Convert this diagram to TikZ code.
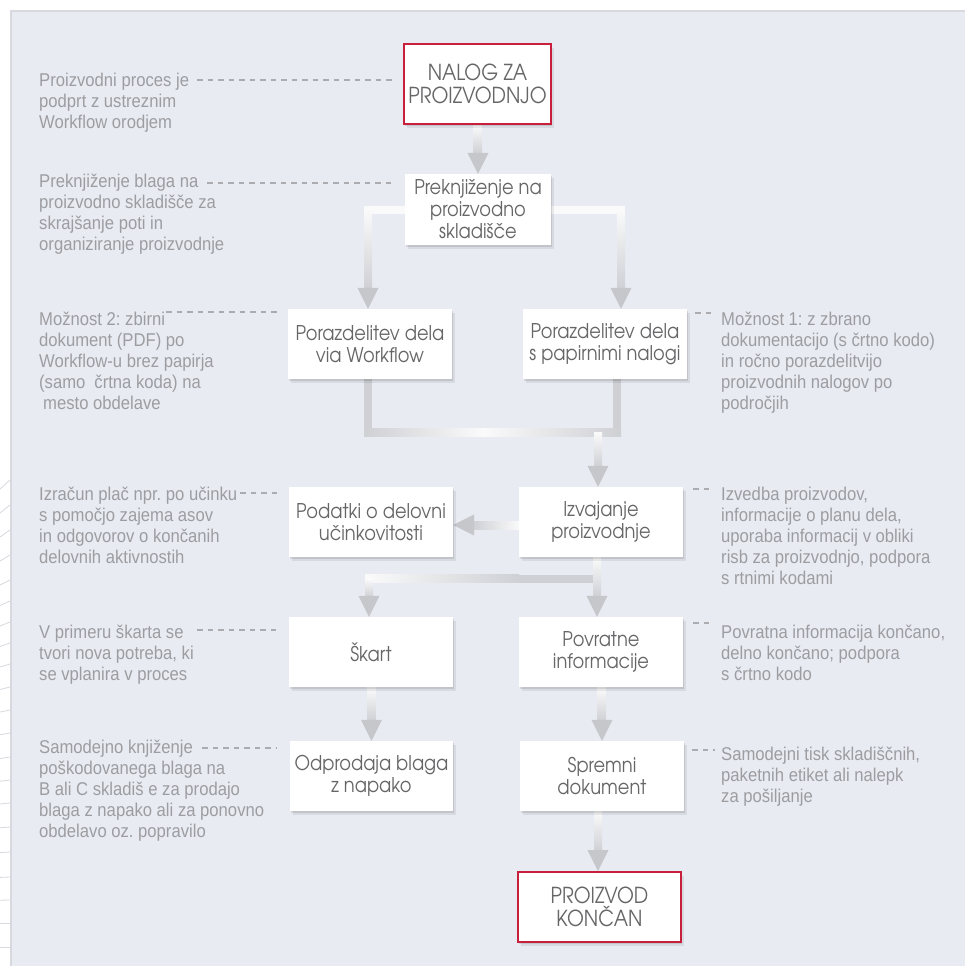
\documentclass[tikz,border=0pt]{standalone}
\usepackage{fontspec}
\setmainfont{Liberation Sans}
\newfontfamily\boxfont{texgyreadventor-regular.otf}[FakeStretch=0.88]
\newfontfamily\notefont{Liberation Sans}[FakeStretch=0.90]
\usetikzlibrary{calc,shadows}
\definecolor{panel}{HTML}{E8EBF2}
\definecolor{panelline}{HTML}{D8D9DE}
\definecolor{redb}{HTML}{C8203C}
\definecolor{boxtext}{HTML}{666668}
\definecolor{notetext}{HTML}{9D9DA1}
\definecolor{leadc}{HTML}{ABABB0}
\definecolor{shw}{HTML}{FAFAFB}
\definecolor{shg}{HTML}{CFD0D4}
\definecolor{headc}{HTML}{C6C7CB}
\pgfdeclarelayer{base}
\pgfdeclarelayer{bg}
\pgfsetlayers{base,bg,main}
\newcommand\vflow[2]{%
  \shade[top color=shw, bottom color=shg] ($(#1)+(-4,0)$) rectangle ($(#2)+(4,-20)$);
  \fill[headc] ($(#2)+(-10.5,-21)$) -- ($(#2)+(10.5,-21)$) -- (#2) -- cycle;}
\tikzset{
  box/.style={fill=white, inner sep=0pt, minimum width=164pt, minimum height=70pt,
    align=center, text=boxtext, font=\boxfont\fontsize{20.3}{22}\selectfont,
    drop shadow={shadow xshift=1pt, shadow yshift=-1.5pt, opacity=0.10, fill=black},
    drop shadow={shadow xshift=2.5pt, shadow yshift=-4pt, opacity=0.07, fill=black}},
  redbox/.style={box, draw=redb, line width=1.6pt, font=\boxfont\fontsize{22}{23.5}\selectfont},
  note/.style={anchor=base west, inner sep=0pt, align=left, text=notetext,
    font=\notefont\fontsize{18.5}{21}\selectfont\frenchspacing},
  leader/.style={draw=leadc, line width=1.4pt, dash pattern=on 5.5pt off 5pt},
  deco/.style={draw=panelline, line width=0.8pt}
}
\begin{document}
\begin{tikzpicture}[x=1pt,y=-1pt]
\useasboundingbox (0,0) rectangle (965,966);
\begin{pgfonlayer}{base}
  \fill[white] (0,0) rectangle (965,966);
  \fill[panel] (11,11) rectangle (965,966);
  \draw[panelline, line width=2pt] (11,966) -- (11,11) -- (965,11);
  \foreach \yy/\dd in {480/9, 505/8, 530/7, 555/6, 580/5, 601/4.5, 622/4, 643/3.5, 664/3, 687/2.5, 710/2, 733/1.8, 757/1.5, 780/1.2, 803/1, 827/0.8, 852/0.6, 877/0.4, 900/0.2, 923/0, 947/0}
    \draw[deco] (0,\yy+\dd) -- (10,\yy);
\end{pgfonlayer}

% boxes
\node[redbox, minimum width=147pt, minimum height=80pt] (n1) at (477.5,84) {NALOG ZA\\PROIZVODNJO};
\node[box, minimum width=146pt, minimum height=71pt] (n2) at (478,209.5) {Preknjiženje na\\proizvodno\\skladišče};
\node[box] (n3) at (370,344) {Porazdelitev dela\\via Workflow};
\node[box] (n4) at (605,344) {Porazdelitev dela\\s papirnimi nalogi};
\node[box] (n5) at (371,522) {Podatki o delovni\\učinkovitosti};
\node[box] (n6) at (601,522) {Izvajanje\\proizvodnje};
\node[box] (n7) at (371,652) {Škart};
\node[box] (n8) at (601,652) {Povratne\\informacije};
\node[box, minimum width=163pt] (n9) at (371.5,776) {Odprodaja blaga\\z napako};
\node[box] (n10) at (602,776) {Spremni\\dokument};
\node[redbox, minimum width=163pt] (n11) at (599.5,907) {PROIZVOD\\KONČAN};

% annotations (anchored at the baseline of the last line)
\node[note] (t1) at (39,128) {Proizvodni proces je\\podprt z ustreznim\\Workflow orodjem};
\node[note] (t2) at (39,250) {Preknjiženje blaga na\\proizvodno skladišče za\\skrajšanje poti in\\organiziranje proizvodnje};
\node[note] (t3) at (39,409) {Možnost 2: zbirni\\dokument (PDF) po\\Workflow-u brez papirja\\(samo\hspace{9pt}črtna koda) na\\\hspace{4pt}mesto obdelave};
\node[note] (t4) at (721,409) {Možnost 1: z zbrano\\dokumentacijo (s črtno kodo)\\in ročno porazdelitvijo\\proizvodnih nalogov po\\področjih};
\node[note] (t5) at (39,563) {Izračun plač npr. po učinku\\s pomočjo zajema asov\\in odgovorov o končanih\\delovnih aktivnostih};
\node[note] (t6) at (721,584) {Izvedba proizvodov,\\informacije o planu dela,\\uporaba informacij v obliki\\risb za proizvodnjo, podpora\\s rtnimi kodami};
\node[note] (t7) at (39,680) {V primeru škarta se\\tvori nova potreba, ki\\se vplanira v proces};
\node[note] (t8) at (721,680) {Povratna informacija končano,\\delno končano; podpora\\s črtno kodo};
\node[note] (t9) at (39,837) {Samodejno knjiženje\\poškodovanega blaga na\\B ali C skladiš e za prodajo\\blaga z napako ali za ponovno\\obdelavo oz. popravilo};
\node[note] (t10) at (721,802) {Samodejni tisk skladiščnih,\\paketnih etiket ali nalepk\\za pošiljanje};

% leader lines
\coordinate (d1a) at (197,80);  \coordinate (d1b) at (395,80);
\coordinate (d2a) at (207,183); \coordinate (d2b) at (395,183);
\coordinate (d3a) at (166,312); \coordinate (d3b) at (277,312);
\coordinate (d4a) at (695,313); \coordinate (d4b) at (713,313);
\coordinate (d5a) at (240,493); \coordinate (d5b) at (277,493);
\coordinate (d6a) at (693,489); \coordinate (d6b) at (713,489);
\coordinate (d7a) at (197,630); \coordinate (d7b) at (277,630);
\coordinate (d8a) at (693,623); \coordinate (d8b) at (713,623);
\coordinate (d9a) at (202,748); \coordinate (d9b) at (277,748);
\coordinate (d10a) at (692,750); \coordinate (d10b) at (715,750);
\foreach \k in {1,...,10} \draw[leader] (d\k a) -- (d\k b);

\begin{pgfonlayer}{bg}
% n1 -> n2
\vflow{n1.south}{n2.north}
% n2 -> n3, n4
\coordinate (a3) at ($(n3.north)+(-2,0)$);
\coordinate (a4) at ($(n4.north)+(16,0)$);
\coordinate (c3) at (a3 |- n2.west);
\coordinate (c4) at (a4 |- n2.east);
\fill[shw] ($(c3)+(-4,-4)$) rectangle ($(n2.west)+(0,4)$);
\fill[shw] ($(n2.east)+(0,-4)$) rectangle ($(c4)+(4,4)$);
\vflow{c3}{a3}
\vflow{c4}{a4}
% merge n3, n4 -> n6
\coordinate (m3) at ($(n3.south)+(-2,0)$);
\coordinate (m4) at ($(n4.south)+(12,0)$);
\coordinate (mL) at ($(m3)+(0,53)$);
\coordinate (mR) at (m4 |- mL);
\fill[shg] ($(m3)+(-4,0)$) rectangle ($(mL)+(4,4)$);
\fill[shg] ($(m4)+(-4,0)$) rectangle ($(mR)+(4,4)$);
\shade[left color=shg, right color=shw] ($(mL)+(-4,-4)$) rectangle ($(mL)+(115,4)$);
\shade[left color=shw, right color=shg] ($(mL)+(115,-4)$) rectangle ($(mR)+(4,4)$);
\coordinate (a6) at ($(n6.north)+(-3,0)$);
\coordinate (m6) at (a6 |- mL);
\vflow{m6}{a6}
% n6 -> n5
\coordinate (h6) at ($(n6.west)+(0,3)$);
\coordinate (h5) at (n5.east |- h6);
\shade[left color=shg, right color=shw] ($(h5)+(20,-4)$) rectangle ($(h6)+(0,4)$);
\fill[headc] (h5) -- ($(h5)+(21,-10.5)$) -- ($(h5)+(21,10.5)$) -- cycle;
% n6 -> n8 and branch to n7
\coordinate (a8) at ($(n8.north)+(-4,0)$);
\coordinate (s6) at (a8 |- n6.south);
\coordinate (a7) at ($(n7.north)+(-2,0)$);
\coordinate (b7) at ($(a7)+(0,-38)$);
\coordinate (b8) at (a8 |- b7);
\shade[left color=shw, right color=shg] ($(b7)+(-4,-4)$) rectangle ($(b7)+(150,4)$);
\fill[shg] ($(b7)+(150,-4)$) rectangle ($(b8)+(0,4)$);
\vflow{b7}{a7}
\vflow{s6}{a8}
% n7 -> n9, n8 -> n10, n10 -> n11
\vflow{n7.south}{n9.north}
\vflow{n8.south}{n10.north}
\coordinate (a11) at ($(n11.north)+(-1.5,0)$);
\coordinate (s10) at (a11 |- n10.south);
\vflow{s10}{a11}
\end{pgfonlayer}
\end{tikzpicture}
\end{document}
